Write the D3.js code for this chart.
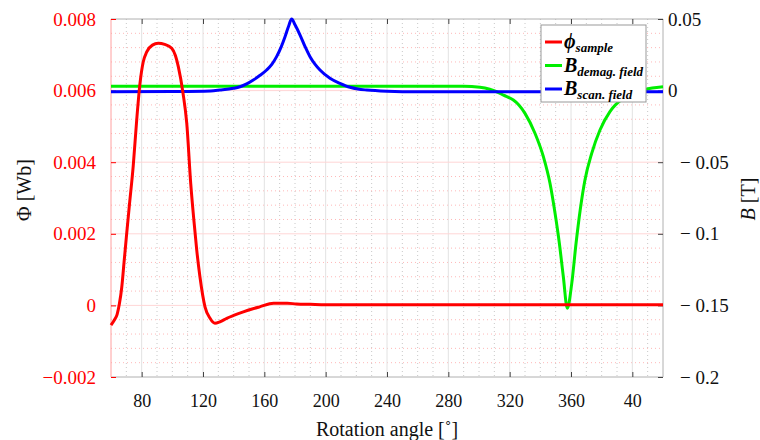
<!DOCTYPE html>
<html>
	<head>
		<title>Rotation angle sweep</title>
		<meta charset="utf-8">
	</head>
	<body>
		<svg id="chart" width="760" height="440"></svg>
	</body>

	<script src="https://cdn.jsdelivr.net/npm/d3@7"></script>
	<script>
		// x ticks (the last one wraps round to 40)
		const angleTicks = [80, 120, 160, 200, 240, 280, 320, 360, 400];
		const phiTicks = [-0.002, 0, 0.002, 0.004, 0.006, 0.008];
		const bTicks = [-0.2, -0.15, -0.1, -0.05, 0, 0.05];

		// flux of the sample (left axis, Wb)
		const phiAngle = [60, 62, 64, 65.5, 67, 68.5, 70, 72, 74.5, 76.8, 78.9, 81, 83.3, 87, 90.8, 95, 99.6, 102, 103.9, 107,
			109.4, 112, 114, 115.9, 118, 121.3, 124.6, 127.8, 131, 135.5, 140, 146.3, 152, 157, 166, 175, 181, 190, 200, 420];
		const phiValue = [-0.00055, -0.00042, -0.00025, 0.00005, 0.0005, 0.0012, 0.0019, 0.0028, 0.0039, 0.0052, 0.0062, 0.0068, 0.00708, 0.00727, 0.00732, 0.00729, 0.00718, 0.00698, 0.00667, 0.00592,
			0.00509, 0.0034, 0.0024, 0.00155, 0.0008, -0.00004, -0.00036, -0.0005, -0.00046, -0.00036, -0.00028, -0.00018, -0.0001, -0.00004, 0.00006, 0.00006, 0.00004, 0.00003, 0.00002, 0.00002];

		// demagnetising field (right axis, T)
		const demagAngle = [60, 200, 290, 300.6, 307, 311.5, 316, 322.4, 326, 330, 336.5, 342, 346.3, 349.6, 352.4, 355, 357.6,
			360.5, 363.3, 366, 369.1, 373.5, 378.9, 385.4, 394.1, 400, 407.2, 413, 420];
		const demagValue = [0.003, 0.003, 0.003, 0.0023, 0.0009, -0.0008, -0.0032, -0.0066, -0.01, -0.0159, -0.0298, -0.0462, -0.0647, -0.0857, -0.1066, -0.13, -0.152,
			-0.1346, -0.1066, -0.0834, -0.0624, -0.0438, -0.0275, -0.0147, -0.0054, -0.002, 0.0004, 0.0018, 0.0027];

		// scanning field (right axis, T)
		const scanAngle = [60, 100, 125, 131, 139.8, 144.1, 148.5, 152.8, 157, 161.5, 165, 168, 171, 173.5, 176, 177.8, 180, 183.3, 186.5,
			189.8, 193, 196.3, 202.8, 209.3, 215.9, 221, 226.8, 240, 260, 330, 420];
		const scanValue = [-0.0008, -0.0006, -0.0002, 0.0004, 0.0016, 0.0027, 0.0047, 0.0074, 0.0105, 0.0144, 0.0185, 0.0237, 0.0305, 0.0376, 0.0455, 0.05, 0.046, 0.0388, 0.0308,
			0.0237, 0.0185, 0.0144, 0.0086, 0.0051, 0.0023, 0.0011, 0.0004, -0.0004, -0.0008, -0.0008, -0.0008];

		const legendNames = [["\u03d5", "sample"], ["B", "demag. field"], ["B", "scan. field"]];
		const colors = ["#ff0000", "#00ee00", "#0000ff"];

		const margin = {top: 19, left: 111},
			width = 552,
			height = 358;

		const x = d3.scaleLinear().domain([60, 420]).range([0, width]);
		const yL = d3.scaleLinear().domain([-0.002, 0.008]).range([height, 0]);
		const yR = d3.scaleLinear().domain([-0.2, 0.05]).range([height, 0]);

		const svg = d3.select("#chart");
		const g = svg.append("g")
			.attr("transform", `translate(${margin.left},${margin.top})`);

		// minor grid
		g.selectAll(".xminor")
			.data(d3.range(70, 420, 10).filter(d => (d - 80) % 40 != 0))
			.enter().append("line")
				.attr("class", "xminor")
				.attr("x1", d => x(d)).attr("x2", d => x(d))
				.attr("y1", 0).attr("y2", height);

		g.selectAll(".yminor")
			.data(d3.range(1, 25).map(i => -0.002 + i * 0.0004).filter(d => Math.abs(d / 0.002 - Math.round(d / 0.002)) > 0.01))
			.enter().append("line")
				.attr("class", "yminor")
				.attr("x1", 0).attr("x2", width)
				.attr("y1", d => yL(d)).attr("y2", d => yL(d));

		// major grid
		g.selectAll(".xmajor")
			.data(angleTicks)
			.enter().append("line")
				.attr("class", "xmajor")
				.attr("x1", d => x(d)).attr("x2", d => x(d))
				.attr("y1", 0).attr("y2", height);

		g.selectAll(".ymajor")
			.data(phiTicks.slice(1, -1))
			.enter().append("line")
				.attr("class", "ymajor")
				.attr("x1", 0).attr("x2", width)
				.attr("y1", d => yL(d)).attr("y2", d => yL(d));

		// frame
		g.append("line").attr("class", "frame").attr("x1", 0).attr("x2", width).attr("y1", 0).attr("y2", 0);
		g.append("line").attr("class", "frame").attr("x1", 0).attr("x2", width).attr("y1", height).attr("y2", height);
		g.append("line").attr("class", "frame").attr("x1", width).attr("x2", width).attr("y1", 0).attr("y2", height);
		g.append("line").attr("class", "frame-left").attr("x1", 0).attr("x2", 0).attr("y1", 0).attr("y2", height);

		const fmtMinus = s => s.startsWith("-") ? "\u2212 " + s.slice(1) : s;

		// axes
		g.append("g")
			.attr("class", "axis x-axis")
			.attr("transform", `translate(0,${height})`)
			.call(d3.axisBottom(x).tickValues(angleTicks).tickSize(-5).tickPadding(17)
				.tickFormat(d => d > 360 ? d - 360 : d));
		g.append("g")
			.attr("class", "axis x-top")
			.call(d3.axisTop(x).tickValues(angleTicks).tickSize(-5).tickFormat(""));

		g.append("g")
			.attr("class", "axis y-left")
			.call(d3.axisLeft(yL).tickValues(phiTicks).tickSize(-5).tickPadding(15)
				.tickFormat(d => fmtMinus(d3.format(".3f")(d).replace(/^(-?)0\.000$/, "$10"))));

		const yRight = g.append("g")
			.attr("class", "axis y-right")
			.attr("transform", `translate(${width},0)`)
			.call(d3.axisRight(yR).tickValues(bTicks).tickSize(-5).tickPadding(10)
				.tickFormat(d => fmtMinus(d === 0 ? "0" : String(+d.toFixed(2)))));
		yRight.selectAll(".tick text")
			.attr("x", d => d < 0 ? 17 : 5);

		g.selectAll(".axis .domain").remove();
		g.selectAll(".axis").attr("font-family", null).attr("font-size", null);

		// curves
		const mkLine = (xs, ys, yScale) => d3.line()
			.x((d, i) => x(xs[i]))
			.y(d => yScale(d))
			.curve(d3.curveMonotoneX)(ys);

		g.append("path").attr("class", "curve").attr("stroke", colors[1])
			.attr("d", mkLine(demagAngle, demagValue, yR));
		g.append("path").attr("class", "curve").attr("stroke", colors[2])
			.attr("d", mkLine(scanAngle, scanValue, yR));
		g.append("path").attr("class", "curve").attr("stroke", colors[0])
			.attr("d", mkLine(phiAngle, phiValue, yL));

		// axis titles
		svg.append("text")
			.attr("class", "title")
			.attr("x", margin.left + width / 2)
			.attr("y", 436)
			.attr("text-anchor", "middle")
			.attr("font-size", "21px")
			.text("Rotation angle [\u02da]");

		svg.append("text")
			.attr("class", "title")
			.attr("fill", "#ff0000")
			.attr("transform", "translate(31,190) rotate(-90)")
			.attr("text-anchor", "middle")
			.text("\u03a6 [Wb]");

		const bTitle = svg.append("text")
			.attr("class", "title")
			.attr("transform", "translate(755,199) rotate(-90)")
			.attr("text-anchor", "middle");
		bTitle.append("tspan").attr("font-style", "italic").text("B");
		bTitle.append("tspan").text(" [T]");

		// legend
		const legend = g.append("g")
			.attr("transform", `translate(${541 - margin.left},${25 - margin.top})`);

		legend.append("rect")
			.attr("class", "legend-box")
			.attr("width", 105)
			.attr("height", 77);

		const item = legend.selectAll(".item")
			.data(legendNames)
			.enter().append("g")
				.attr("class", "item")
				.attr("transform", (d, i) => `translate(0,${17 + i * 23.5})`);

		item.append("line")
			.attr("x1", 4).attr("x2", 21)
			.attr("stroke", (d, i) => colors[i])
			.attr("stroke-width", 3);

		const label = item.append("text")
			.attr("class", "legend-text")
			.attr("x", 23)
			.attr("y", 6);
		label.append("tspan").attr("font-size", "20px").text(d => d[0]);
		label.append("tspan").attr("font-size", "13px").attr("dy", 4).text(d => d[1]);
	</script>

	<style>

		html, body
		{
			margin: 0;
			background: #fff;
		}

		#chart
		{
			display: block;
		}

		#chart text
		{
			font-family: "Liberation Serif", "Times New Roman", serif;
		}

		.xminor
		{
			stroke: #c8c8c8;
			stroke-dasharray: 1 3;
		}

		.yminor
		{
			stroke: #ffb8b8;
			stroke-dasharray: 1 3;
		}

		.xmajor
		{
			stroke: #e2e2e2;
		}

		.ymajor
		{
			stroke: #ffd6d6;
		}

		.frame
		{
			stroke: #b0b0b0;
		}

		.frame-left
		{
			stroke: #ffa0a0;
		}

		.axis text
		{
			font-size: 19px;
			fill: #111;
		}

		.x-axis text
		{
			font-size: 18px;
		}

		.x-axis .tick line, .x-top .tick line, .y-right .tick line
		{
			stroke: #444;
		}

		.y-left text
		{
			fill: #ff0000;
			font-size: 19px;
		}

		.y-left .tick line
		{
			stroke: #ff0000;
		}

		.curve
		{
			fill: none;
			stroke-width: 3;
			stroke-linejoin: round;
		}

		.title
		{
			font-size: 20px;
			fill: #111;
		}

		.legend-text
		{
			font-weight: bold;
			font-style: italic;
			fill: #000;
		}

		.legend-box
		{
			fill: #fff;
			stroke: #999;
		}

	</style>
</html>
